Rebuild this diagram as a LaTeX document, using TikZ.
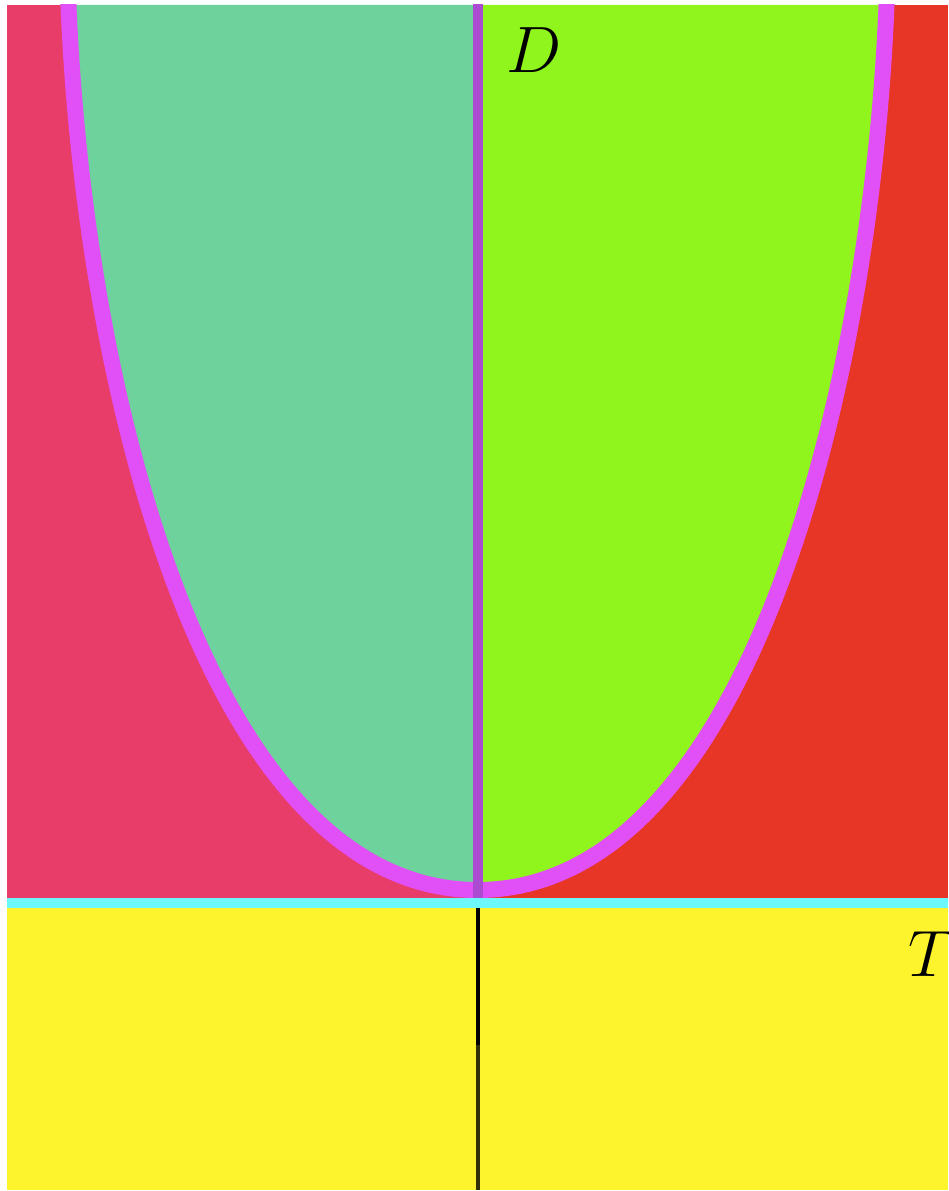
\documentclass[tikz,border=0pt]{standalone}
\usepackage{xcolor}
\usepackage{tikz}

\definecolor{outL}{HTML}{E83C69}
\definecolor{outR}{HTML}{E73626}
\definecolor{inL}{HTML}{6DD29B}
\definecolor{inR}{HTML}{8FF51C}
\definecolor{rimc}{HTML}{E14FF7}
\definecolor{axc}{HTML}{AB4BD2}
\definecolor{cyanc}{HTML}{6CF8FA}
\definecolor{gnd}{HTML}{FEF42E}

\begin{document}
\begin{tikzpicture}[
  lbl/.style={inner sep=0pt,font=\Huge,scale=1.5},
  rim/.style={draw=rimc,line width=0.32cm},
  ax/.style={draw=axc,line width=0.2cm}]
\useasboundingbox (0,0) rectangle (18.96,23.82);
\coordinate (v)  at (9.55,6.02);
\coordinate (tl) at (1.37,23.72);
\coordinate (tr) at (17.73,23.72);
\coordinate (tc) at (9.55,23.72);
\coordinate (c)  at (9.55,5.76);
\coordinate (m)  at (9.55,2.92);
\coordinate (b)  at (9.55,0.02);
\begin{scope}
\clip (0.14,0.02) rectangle (18.96,23.72);
% regions above the line T
\fill[outL] (0.14,5.76) rectangle (tc);
\fill[outR] (tc) rectangle (18.96,5.76);
\fill[inL] (v) .. controls (4.15,6.02) and (1.68,16.02) .. (tl) -- (tc) -- cycle;
\fill[inR] (v) .. controls (14.95,6.02) and (17.42,16.02) .. (tr) -- (tc) -- cycle;
\draw[rim] (tl) ++(-0.03,0.5) -- (tl) .. controls (1.68,16.02) and (4.15,6.02) .. (v)
  .. controls (14.95,6.02) and (17.42,16.02) .. (tr) -- ++(0.03,0.5);
\draw[ax] (tc) ++(0,0.3) -- (c);
% below
\fill[gnd] (0.14,0.02) rectangle (18.96,5.76);
\draw[cyanc,line width=0.2cm] (0.14,5.76) -- (18.96,5.76);
\draw[black,line width=0.08cm] (c) ++(0,-0.1) -- (m);
\draw[black,opacity=0.8,line width=0.08cm] (m) -- (b);
\end{scope}
\node[lbl] (D) at (10.68,22.82) {$D$};
\node[lbl] (T) at (18.64,4.73) {$T$};
\end{tikzpicture}
\end{document}
